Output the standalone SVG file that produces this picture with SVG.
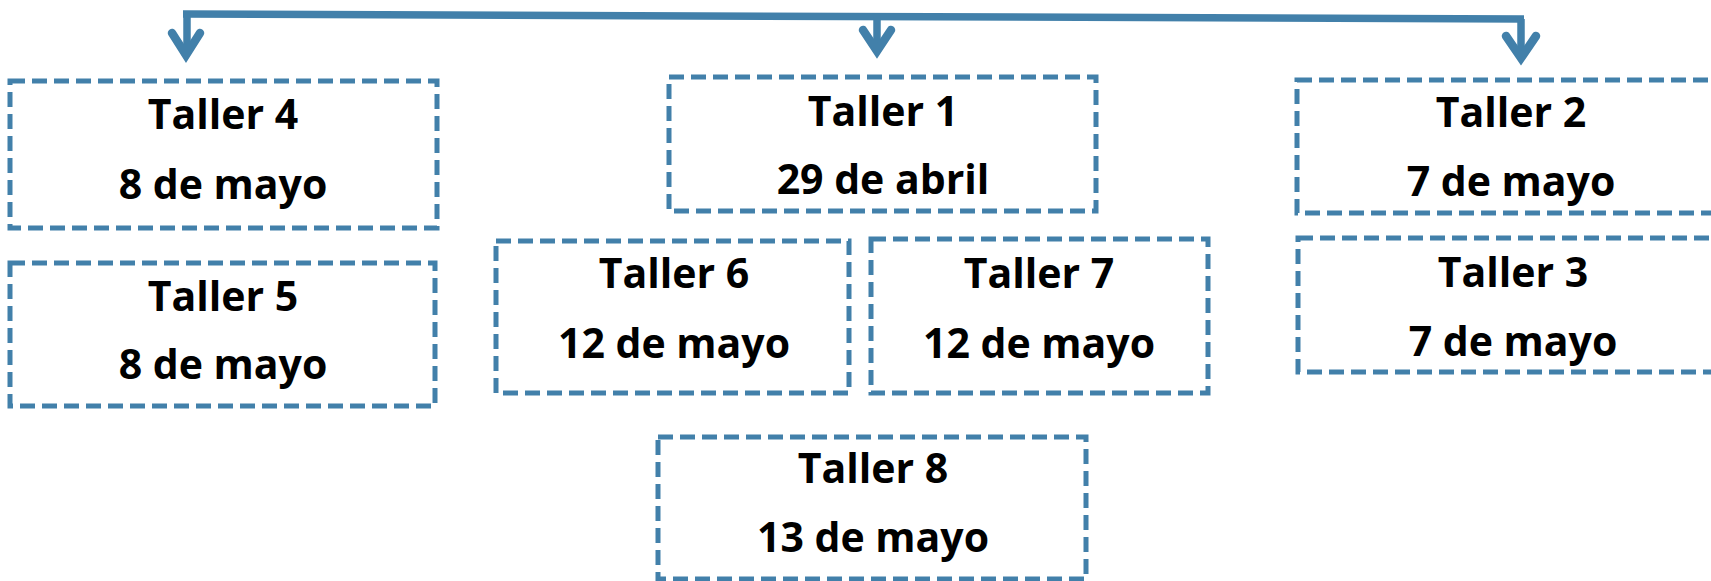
<svg xmlns="http://www.w3.org/2000/svg" width="1711" height="581" viewBox="0 0 1711 581">
<style>
.box{fill:#fff;stroke:#4280AA;stroke-width:5;stroke-dasharray:15 7}
.t{font-family:"Open Sans","Liberation Sans",sans-serif;font-weight:700;font-size:41px;fill:#000;text-anchor:middle}
.ln{fill:none;stroke:#4280AA;stroke-width:7.5}
.hd{fill:none;stroke:#4280AA;stroke-width:8.5;stroke-linecap:round;stroke-linejoin:miter;stroke-miterlimit:10}
</style>
<rect width="1711" height="581" fill="#fff"/>
<g id="connectors">
<path class="ln" d="M183,14 L1524,19"/>
<path class="ln" d="M187,14 L187,52"/>
<path class="ln" d="M877,17 L877,48"/>
<path class="ln" d="M1521,19 L1521,55"/>
<path class="hd" d="M172,33 L186,55 L200,33"/>
<path class="hd" d="M863,30 L877,51 L891,30"/>
<path class="hd" d="M1506,36 L1521,58 L1536,36"/>
</g>
<g id="taller4"><rect class="box" x="10" y="81" width="427" height="147"/><text class="t" x="223" y="129">Taller 4</text><text class="t" x="223" y="199">8 de mayo</text></g>
<g id="taller5"><rect class="box" x="10" y="263" width="425" height="143"/><text class="t" x="223" y="311">Taller 5</text><text class="t" x="223" y="379">8 de mayo</text></g>
<g id="taller1"><rect class="box" x="669" y="77" width="427" height="134"/><text class="t" x="883" y="126">Taller 1</text><text class="t" x="883" y="194">29 de abril</text></g>
<g id="taller6"><rect class="box" x="496" y="241" width="353" height="152"/><text class="t" x="674" y="288">Taller 6</text><text class="t" x="674" y="358">12 de mayo</text></g>
<g id="taller7"><rect class="box" x="871" y="239" width="337" height="154"/><text class="t" x="1039" y="288">Taller 7</text><text class="t" x="1039" y="358">12 de mayo</text></g>
<g id="taller8"><rect class="box" x="658" y="437" width="428" height="142"/><text class="t" x="873" y="483">Taller 8</text><text class="t" x="873" y="552">13 de mayo</text></g>
<g id="taller2"><rect class="box" x="1297" y="80" width="440" height="133"/><text class="t" x="1511" y="127">Taller 2</text><text class="t" x="1511" y="196">7 de mayo</text></g>
<g id="taller3"><rect class="box" x="1298" y="238" width="440" height="134"/><text class="t" x="1513" y="287">Taller 3</text><text class="t" x="1513" y="356">7 de mayo</text></g>
</svg>
